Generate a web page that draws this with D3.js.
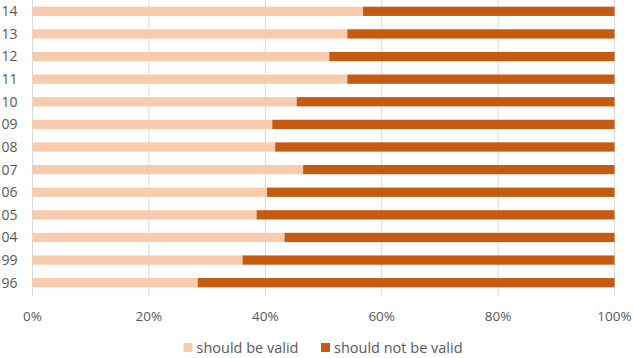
<!DOCTYPE html>
<html>
<head>
<meta charset="utf-8">
<script src="https://cdn.jsdelivr.net/npm/d3@7"></script>
<style>
  body { margin: 0; background: #fff; }
  text { font-family: "Open Sans", sans-serif; fill: #595959; }
</style>
</head>
<body>
<svg id="chart" width="633" height="358"></svg>
<script>
// categories listed bottom to top
const years = ["96", "99", "04", "05", "06", "07", "08", "09", "10", "11", "12", "13", "14"];
// share answering "should be valid"
const shouldBeValid = [0.284, 0.361, 0.433, 0.385, 0.403, 0.465, 0.417, 0.412, 0.454, 0.541, 0.510, 0.541, 0.568];
const seriesNames = ["should be valid", "should not be valid"];
const seriesColors = ["#F8CBAD", "#C55A11"];
const tickValues = [0, 0.2, 0.4, 0.6, 0.8, 1];

const svg = d3.select("#chart");
const margin = {top: 0, left: 32.5, right: 18.5, bottom: 64};
const width = 633 - margin.left - margin.right;
const height = 358 - margin.top - margin.bottom;

const g = svg.append("g").attr("transform", `translate(${margin.left},${margin.top})`);

const x = d3.scaleLinear().domain([0, 1]).range([0, width]);
const y = d3.scaleBand().domain(years.slice().reverse()).range([0, height]).paddingInner(0.59).paddingOuter(0.295);

// gridlines
g.selectAll(".grid").data(tickValues).enter()
  .append("line")
  .attr("class", "grid")
  .attr("x1", d => x(d)).attr("x2", d => x(d))
  .attr("y1", 0).attr("y2", height + 2)
  .attr("stroke", "#d9d9d9").attr("stroke-width", 1);

const rows = years.map((yr, i) => ({year: yr, valid: shouldBeValid[i], notValid: 1 - shouldBeValid[i]}));
const stacked = d3.stack().keys(["valid", "notValid"])(rows);

g.selectAll(".series").data(stacked).enter()
  .append("g")
  .attr("fill", (d, i) => seriesColors[i])
  .selectAll("rect").data(d => d).enter()
  .append("rect")
  .attr("x", d => x(d[0]))
  .attr("width", d => x(d[1]) - x(d[0]))
  .attr("y", d => y(d.data.year))
  .attr("height", y.bandwidth());

// x axis labels
g.selectAll(".xlab").data(tickValues).enter()
  .append("text")
  .attr("x", d => x(d))
  .attr("y", height + 27)
  .attr("text-anchor", "middle")
  .attr("font-size", 13.5)
  .text(d3.format(".0%"));

// y axis labels
g.selectAll(".ylab").data(years).enter()
  .append("text")
  .attr("x", -15)
  .attr("y", d => y(d) + y.bandwidth() / 2)
  .attr("dy", "0.35em")
  .attr("text-anchor", "end")
  .attr("font-size", 14)
  .text(d => d);

// legend
const legendX = [183.5, 321];
const legend = svg.selectAll(".legend").data(seriesNames).enter()
  .append("g")
  .attr("transform", (d, i) => `translate(${legendX[i]},348)`);
legend.append("rect")
  .attr("x", 0).attr("y", -5).attr("width", 9).attr("height", 9)
  .attr("fill", (d, i) => seriesColors[i]);
legend.append("text")
  .attr("x", 13).attr("dy", "0.35em")
  .attr("font-size", 14.5)
  .text(d => d);
</script>
</body>
</html>
